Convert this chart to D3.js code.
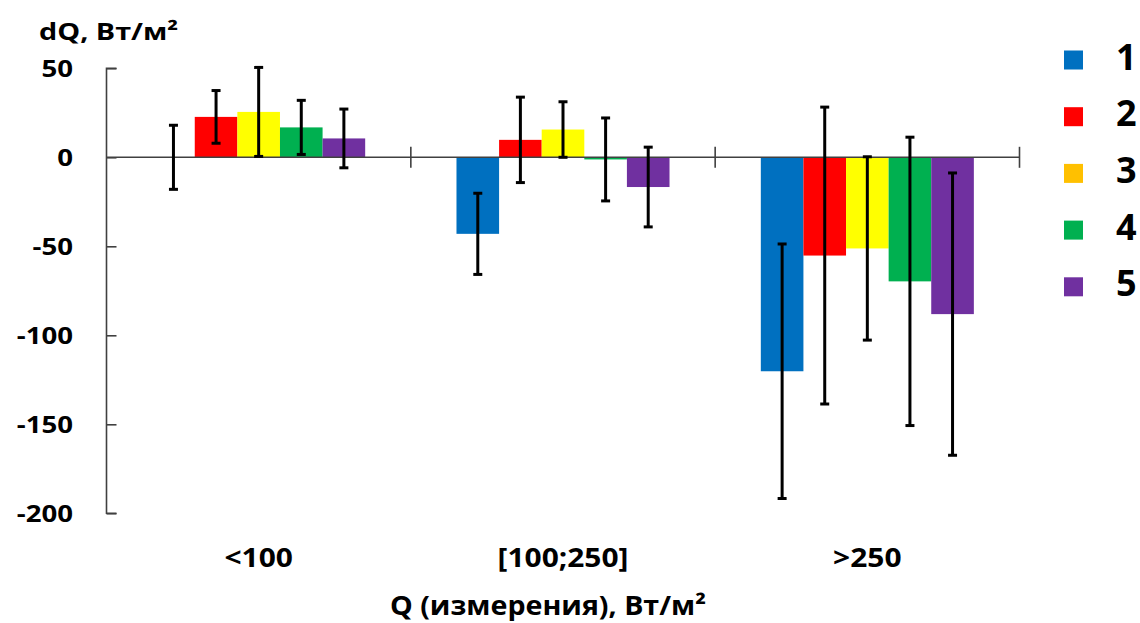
<!DOCTYPE html>
<html>
<head>
<meta charset="utf-8">
<script src="https://cdn.jsdelivr.net/npm/d3@7"></script>
<style>
  html, body { margin: 0; padding: 0; background: #fff; }
  svg { display: block; }
  text { font-family: "Open Sans", "DejaVu Sans", sans-serif; fill: #000; }
</style>
</head>
<body>
<svg id="chart" width="1140" height="623"></svg>
<script>
// Groups of measured flux Q and the five series
const categories = ["<100", "[100;250]", ">250"];
const seriesNames = ["1", "2", "3", "4", "5"];

// Mean dQ (W/m²) for each series, one value per group
const series1 = [0, -43, -120.2];
const series2 = [22.7, 9.8, -55.2];
const series3 = [25.5, 15.6, -51.2];
const series4 = [16.8, -1.2, -69.7];
const series5 = [10.6, -16.7, -88.1];

// Half-width of each error bar, same order
const err1 = [18, 22.8, 71.5];
const err2 = [14.8, 24, 83.4];
const err3 = [25, 15.6, 51.5];
const err4 = [15.2, 23.3, 81];
const err5 = [16.5, 22.4, 79.3];

const yTicks = [50, 0, -50, -100, -150, -200];

const barColors = ["#0070C0", "#FF0000", "#FFFF00", "#00B050", "#7030A0"];
const legendColors = ["#0070C0", "#FF0000", "#FFC000", "#00B050", "#7030A0"];

const values = [series1, series2, series3, series4, series5];
const errors = [err1, err2, err3, err4, err5];

const rows = [];
categories.forEach((c, ci) => {
  seriesNames.forEach((s, si) => {
    rows.push({ cat: c, ser: s, si, value: values[si][ci], err: errors[si][ci] });
  });
});

const svg = d3.select("#chart");

const x0 = d3.scaleBand().domain(categories).range([106.5, 1019.5]).padding(0);
const bw = x0.bandwidth();
const x1 = d3.scaleBand().domain(seriesNames).range([bw * 0.15, bw * 0.85]).padding(0);
const y = d3.scaleLinear().domain([-200, 50]).range([513.3, 68.3]);

// Stretch a label horizontally to the wider face used in the chart
function widen(sel, k) {
  sel.each(function () {
    const w = this.getComputedTextLength();
    this.setAttribute("textLength", w * k);
    this.setAttribute("lengthAdjust", "spacingAndGlyphs");
  });
}

// Bars
svg.append("g")
  .selectAll("rect")
  .data(rows)
  .join("rect")
  .attr("x", d => x0(d.cat) + x1(d.ser))
  .attr("width", x1.bandwidth())
  .attr("y", d => Math.min(y(d.value), y(0)))
  .attr("height", d => Math.abs(y(d.value) - y(0)))
  .attr("fill", d => barColors[d.si]);

// Y axis
const yAxis = svg.append("g")
  .attr("transform", `translate(${x0.range()[0]},0)`)
  .call(d3.axisRight(y).tickValues(yTicks).tickSize(10).tickFormat(""));
yAxis.select(".domain").attr("stroke", "#404040").attr("stroke-width", 1.6)
  .attr("d", `M10,${y(50)}H0V${y(-200)}H10`);
yAxis.selectAll(".tick line").attr("stroke", "#404040").attr("stroke-width", 1.6);

const yLabels = svg.append("g")
  .selectAll("text")
  .data(yTicks)
  .join("text")
  .attr("x", 73)
  .attr("y", d => y(d))
  .attr("dy", "0.36em")
  .attr("text-anchor", "end")
  .attr("font-size", 24)
  .attr("font-weight", 700)
  .text(d => d);
widen(yLabels, 1.15);

// X axis along zero with ticks between the groups
const xAxisG = svg.append("g").attr("transform", `translate(0,${y(0)})`);
xAxisG.append("line")
  .attr("x1", x0.range()[0]).attr("x2", x0.range()[1])
  .attr("stroke", "#404040").attr("stroke-width", 1.6);
xAxisG.selectAll("line.tick")
  .data(categories)
  .join("line")
  .attr("class", "tick")
  .attr("x1", d => x0(d) + bw).attr("x2", d => x0(d) + bw)
  .attr("y1", -10.5).attr("y2", 10.5)
  .attr("stroke", "#404040").attr("stroke-width", 1.6);

// Error bars
const eb = svg.append("g").attr("stroke", "#000").attr("stroke-width", 3);
rows.forEach(d => {
  const cx = x0(d.cat) + x1(d.ser) + x1.bandwidth() / 2;
  const top = y(d.value + d.err), bot = y(d.value - d.err);
  eb.append("line").attr("x1", cx).attr("x2", cx).attr("y1", top).attr("y2", bot);
  eb.append("line").attr("x1", cx - 4.5).attr("x2", cx + 4.5).attr("y1", top).attr("y2", top);
  eb.append("line").attr("x1", cx - 4.5).attr("x2", cx + 4.5).attr("y1", bot).attr("y2", bot);
});

// Category labels
const catLabels = svg.append("g")
  .selectAll("text")
  .data(categories)
  .join("text")
  .attr("x", d => x0(d) + bw / 2)
  .attr("y", 566.5)
  .attr("text-anchor", "middle")
  .attr("font-size", 26)
  .attr("font-weight", 700)
  .text(d => d);
widen(catLabels, 1.15);

// Axis titles
const yTitle = svg.append("text")
  .attr("x", 39).attr("y", 40)
  .attr("font-size", 24).attr("font-weight", 700)
  .text("dQ, Вт/м²");
widen(yTitle, 1.2);

const xTitle = svg.append("text")
  .attr("x", 548).attr("y", 615)
  .attr("text-anchor", "middle")
  .attr("font-size", 26).attr("font-weight", 700)
  .text("Q (измерения), Вт/м²");
widen(xTitle, 1.1);

// Legend
const legend = svg.append("g")
  .selectAll("g")
  .data(seriesNames)
  .join("g")
  .attr("transform", (d, i) => `translate(1064,${60 + i * 56.7})`);
legend.append("rect")
  .attr("x", 0).attr("y", -9.5).attr("width", 19).attr("height", 19)
  .attr("fill", (d, i) => legendColors[i]);
legend.append("text")
  .attr("x", 52).attr("y", 9.5)
  .attr("font-size", 36).attr("font-weight", 700)
  .text(d => d);
</script>
</body>
</html>
